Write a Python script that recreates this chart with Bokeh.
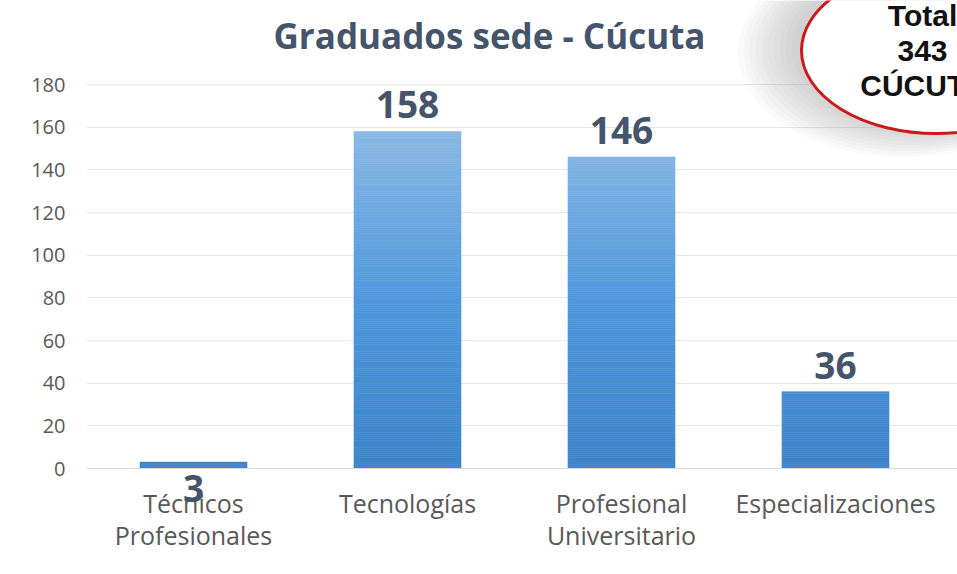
from bokeh.plotting import figure
from bokeh.models import (ColumnDataSource, FixedTicker, LabelSet, Label)
from bokeh.core.properties import value
from bokeh.embed import file_html
from bokeh.resources import INLINE

# ---- data ----
categories = ["Técnicos\nProfesionales", "Tecnologías", "Profesional\nUniversitario", "Especializaciones"]
counts = [3, 158, 146, 36]
y_ticks = [0, 20, 40, 60, 80, 100, 120, 140, 160, 180]
title_text = "Graduados sede - Cúcuta"
badge_lines = ["Total", "343", "CÚCUTA"]

# ---- layout helpers (picture px -> data) ----
W, H = 957, 574
FL = 86                   # frame left
ZERO_PX = 468.0           # picture y of value 0
CAT_PX = 214.0
PX_PER_UNIT = 384.0 / 180.0
x_end = (W - FL) / CAT_PX
y_end = ZERO_PX / PX_PER_UNIT
y_start = -(H - ZERO_PX) / PX_PER_UNIT

def sx(px):
    return (px - FL) / CAT_PX

def sy(py):
    return (ZERO_PX - py) / PX_PER_UNIT

p = figure(width=W, height=H, output_backend="svg", toolbar_location=None,
           x_range=(0, x_end), y_range=(y_start, y_end),
           min_border_left=FL, min_border_right=0, min_border_top=0,
           min_border_bottom=0)
p.outline_line_color = None
p.background_fill_color = "white"
p.border_fill_color = "white"

# grid
p.xgrid.grid_line_color = None
p.ygrid.grid_line_color = "#e6e6e6"
p.ygrid.grid_line_width = 1
p.ygrid.ticker = FixedTicker(ticks=y_ticks)

# y axis
p.yaxis.ticker = FixedTicker(ticks=y_ticks)
p.yaxis.axis_line_color = None
p.yaxis.major_tick_line_color = None
p.yaxis.minor_tick_line_color = None
p.yaxis.major_label_standoff = 15
p.yaxis.major_label_text_font = "Open Sans"
p.yaxis.major_label_text_font_size = "20px"
p.yaxis.major_label_text_color = "#595959"

# x axis, pinned at value 0
xt = [i + 0.5 for i in range(len(categories))]
p.xaxis.fixed_location = 0
p.xaxis.ticker = FixedTicker(ticks=xt)
p.xaxis.major_label_overrides = {t: c for t, c in zip(xt, categories)}
p.xaxis.axis_line_color = "#d9d9d9"
p.xaxis.axis_line_width = 1
p.xaxis.major_tick_line_color = None
p.xaxis.minor_tick_line_color = None
p.xaxis.major_label_standoff = 11
p.xaxis.major_label_text_font = "Open Sans"
p.xaxis.major_label_text_font_size = "25px"
p.xaxis.major_label_text_color = "#595959"
p.xaxis.major_label_text_line_height = 0.95

# ---- bars with vertical gradient ----
def lerp(c1, c2, t):
    a = [int(c1[i:i + 2], 16) for i in (1, 3, 5)]
    b = [int(c2[i:i + 2], 16) for i in (1, 3, 5)]
    return "#%02x%02x%02x" % tuple(round(a[i] + (b[i] - a[i]) * t) for i in range(3))

stops = [(0, "#3d84c8"), (80, "#4f98dc"), (160, "#8cb9e5")]

def grad(v):
    for (v0, c0), (v1, c1) in zip(stops[:-1], stops[1:]):
        if v <= v1:
            return lerp(c0, c1, (v - v0) / (v1 - v0))
    return stops[-1][1]

step = 1.0
bx, bb, bt, bc = [], [], [], []
for i, v in enumerate(counts):
    lo = 0.0
    while lo < v:
        hi = min(v, lo + step)
        bx.append(i + 0.5); bb.append(lo); bt.append(hi); bc.append(grad((lo + hi) / 2))
        lo = hi
bars = ColumnDataSource(dict(x=bx, bottom=bb, top=bt, color=bc))
p.vbar(x="x", bottom="bottom", top="top", width=0.5, source=bars,
       fill_color="color", line_color="color", line_width=0.6)

# ---- value labels ----
small = [v < 10 for v in counts]
lab_src = ColumnDataSource(dict(
    x=[i + 0.5 for i in range(len(counts))],
    y=[0 if s else v for v, s in zip(counts, small)],
    off=[-33 if s else 13 for s in small],
    text=[str(v) for v in counts]))
p.add_layout(LabelSet(x="x", y="y", y_offset="off", text="text", source=lab_src,
                      text_align="center", text_baseline="alphabetic",
                      text_font=value("Open Sans"), text_font_style="bold",
                      text_font_size="37px", text_color="#44546a"))

# ---- title ----
p.add_layout(Label(x=sx(489), y=sy(35), text=title_text, text_align="center",
                   text_baseline="middle", text_font="Open Sans", text_font_style="bold",
                   text_font_size="35px", text_color="#44546a"))

# ---- badge (ellipse with soft shadow) ----
for k in range(10):
    p.ellipse(x=sx(936 - 10 - k * 2.5), y=sy(46 + k * 0.6), width=270 + k * 7, height=166 + k * 5,
              width_units="screen", height_units="screen",
              fill_color="#808080", fill_alpha=0.045, line_color=None)
p.ellipse(x=sx(936), y=sy(50), width=270, height=166, width_units="screen", height_units="screen",
          fill_color="white", line_color="#cc1a1a", line_width=3)
p.text(x=[sx(922)] * 3, y=[sy(15), sy(50), sy(85)], text=badge_lines,
       text_align="center", text_baseline="middle",
       text_font=value("Liberation Sans"), text_font_style="bold",
       text_font_size="30px", text_color="#111111")

open("out.html", "w").write(file_html(p, INLINE))
